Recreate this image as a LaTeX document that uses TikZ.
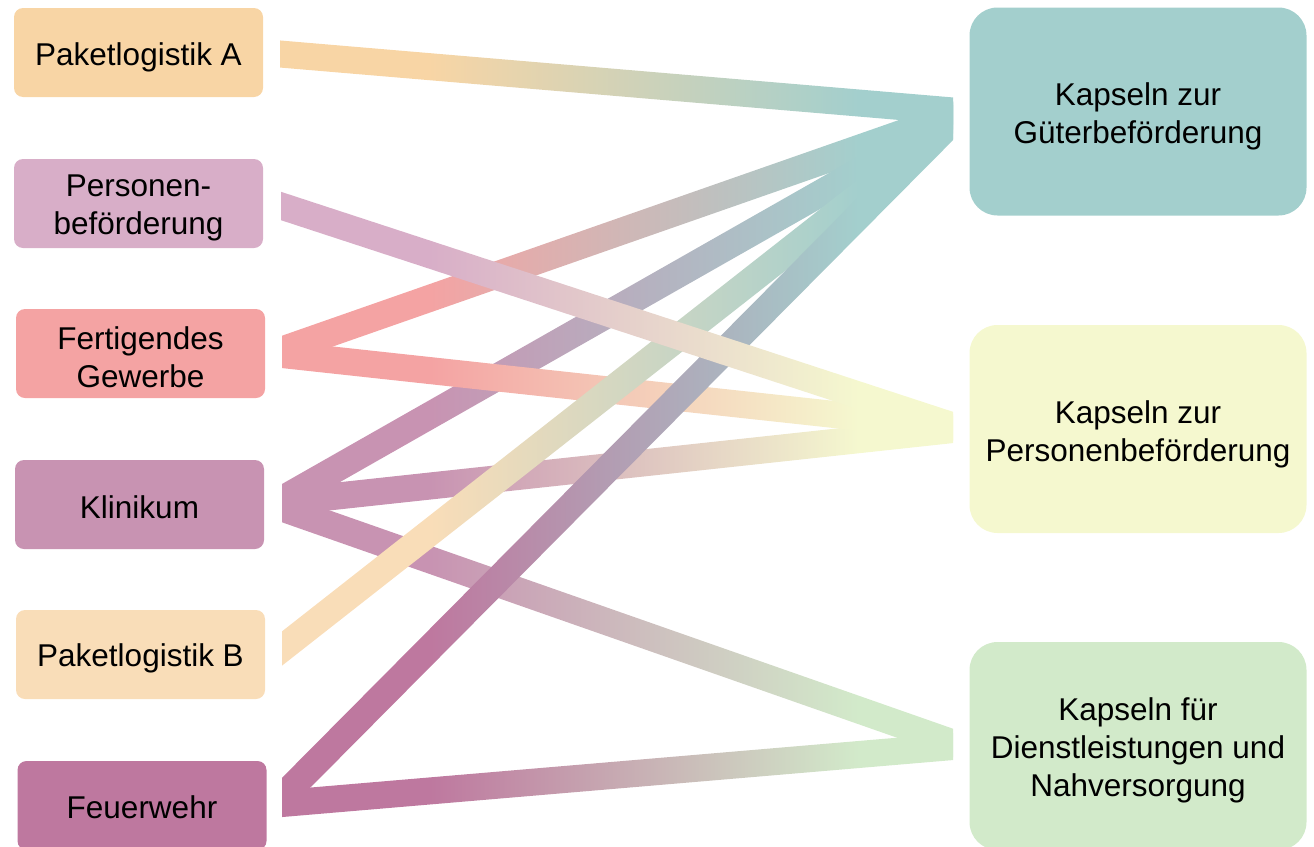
\documentclass[tikz,border=0pt]{standalone}
\usepackage{fontspec}
\setmainfont{Liberation Sans}
\usetikzlibrary{calc}
\definecolor{cA}{HTML}{F8D5A5}
\definecolor{cP}{HTML}{D8AEC8}
\definecolor{cF}{HTML}{F4A3A3}
\definecolor{cK}{HTML}{C893B2}
\definecolor{cB}{HTML}{F9DDB8}
\definecolor{cW}{HTML}{BE789F}
\definecolor{cGu}{HTML}{A3CFCD}
\definecolor{cPK}{HTML}{F5F8CF}
\definecolor{cD}{HTML}{D2EACA}
\colorlet{bandL}{white}\colorlet{bandR}{white}
\pgfdeclarehorizontalshading[bandL,bandR]{band}{100bp}{color(0bp)=(bandL); color(36bp)=(bandL); color(68bp)=(bandR); color(100bp)=(bandR)}
\newcommand\drawband[4]{%
  \colorlet{bandL}{#3}\colorlet{bandR}{#4}%
  \shade[shading=band] let \p1=(#1), \p2=(#2),
    \n1={13.5pt*sqrt(1+((\y2-\y1)/(\x2-\x1))^2)} in
    (\x1,\y1+\n1) -- (\x2,\y2+\n1) -- (\x2,\y2-\n1) -- (\x1,\y1-\n1) -- cycle;}
\tikzset{
  txt/.style={font=\fontsize{31.5}{38}\selectfont, text=black, align=center, inner sep=0pt},
  lbox/.style={rounded corners=9pt, minimum width=249pt, minimum height=89pt, inner sep=0pt},
  rbox/.style={rounded corners=28pt, minimum width=337pt, minimum height=208pt, inner sep=0pt}
}
\begin{document}
\begin{tikzpicture}[x=1pt,y=-1pt]
\useasboundingbox (0,0) rectangle (1314,846);
% left boxes
\node[lbox, fill=cA] (A) at (138.5,52.5) {};
\node[lbox, fill=cP] (P) at (138.5,203.5) {};
\node[lbox, fill=cF] (F) at (140.5,353.5) {};
\node[lbox, fill=cK] (K) at (139.5,504.5) {};
\node[lbox, fill=cB] (B) at (140.5,654.5) {};
\node[lbox, fill=cW] (W) at (142,805.5) {};
% right boxes
\node[rbox, fill=cGu] (Gu) at (1138,111.5) {};
\node[rbox, fill=cPK] (PK) at (1138,429) {};
\node[rbox, fill=cD] (D) at (1138,746) {};
% texts
\node[txt] (A-t) at ([yshift=-5pt]A.center) {Paketlogistik A};
\node[txt] (P-t) at ([yshift=-4pt]P.center) {Personen-\\beförderung};
\node[txt] (F-t) at ([yshift=-4pt]F.center) {Fertigendes\\Gewerbe};
\node[txt] (K-t) at ([yshift=-3pt]K.center) {Klinikum};
\node[txt] (B-t) at ([yshift=-4pt]B.center) {Paketlogistik B};
\node[txt] (W-t) at ([yshift=-2pt]W.center) {Feuerwehr};
\node[txt] (Gu-t) at ([yshift=-5pt]Gu.center) {Kapseln zur\\Güterbeförderung};
\node[txt] (PK-t) at ([yshift=-5pt]PK.center) {Kapseln zur\\Personenbeförderung};
\node[txt] (D-t) at ([yshift=-4pt]D.center) {Kapseln für\\Dienstleistungen und\\Nahversorgung};
% band anchors
\coordinate (A-g) at (280,54);
\coordinate (P-p) at (281,206);
\coordinate (F-g) at (282,350);
\coordinate (F-p) at (282,354.5);
\coordinate (K-g) at (282,499.5);
\coordinate (K-p) at (282,502);
\coordinate (K-d) at (282,508);
\coordinate (B-g) at (282,648.5);
\coordinate (W-g) at (282,797);
\coordinate (W-d) at (282,803.5);
\coordinate (Gu-a) at (953,111);
\coordinate (Gu-f) at (953,115.4);
\coordinate (Gu-k) at (953,118);
\coordinate (Gu-b) at (953,122);
\coordinate (Gu-w) at (953,121);
\coordinate (PK-p) at (953,426);
\coordinate (PK-f) at (953,427.4);
\coordinate (PK-k) at (953,429.5);
\coordinate (D-k) at (953,743);
\coordinate (D-w) at (953,746.5);
% bands (drawing order sets overlaps)
\drawband{A-g}{Gu-a}{cA}{cGu}
\drawband{F-g}{Gu-f}{cF}{cGu}
\drawband{K-d}{D-k}{cK}{cD}
\drawband{K-p}{PK-k}{cK}{cPK}
\drawband{K-g}{Gu-k}{cK}{cGu}
\drawband{F-p}{PK-f}{cF}{cPK}
\drawband{B-g}{Gu-b}{cB}{cGu}
\drawband{W-d}{D-w}{cW}{cD}
\drawband{W-g}{Gu-w}{cW}{cGu}
\drawband{P-p}{PK-p}{cP}{cPK}
\end{tikzpicture}
\end{document}
